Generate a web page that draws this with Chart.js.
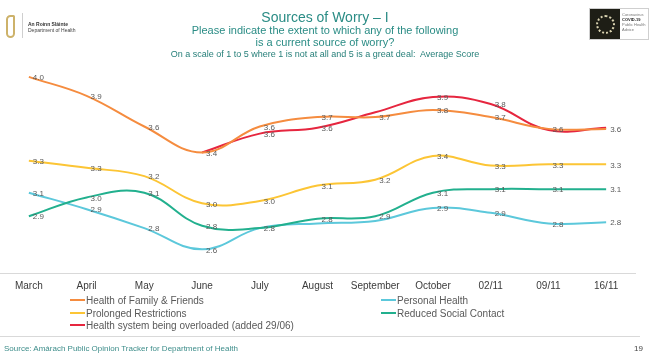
<!DOCTYPE html>
<html>
<head>
<meta charset="utf-8">
<script src="https://cdn.jsdelivr.net/npm/chart.js@4"></script>
<style>
  body { margin: 0; background: #fff; font-family: "Liberation Sans", Arial, sans-serif; }
  #page { position: relative; width: 650px; height: 361px; overflow: hidden; }
  #page div { position: absolute; white-space: nowrap; }
  canvas { position: absolute; left: 0; top: 0; }
  .head { left: 0; width: 650px; text-align: center; color: #2a8c85; }
  .leg { font-size: 10px; line-height: 12px; color: #595959; }
  .leg span { display: inline-block; width: 15px; height: 2px; vertical-align: middle; margin-right: 1px; margin-top: -2px; }
</style>
</head>
<body>
<div id="page">
  <canvas id="myChart" width="650" height="300"></canvas>

  <!-- department logo -->
  <div style="left:6px;top:15px;width:5px;height:19px;border:2px solid #cdb26a;border-radius:6px 2px 6px 6px;"></div>
  <div style="left:22px;top:13px;width:1px;height:25px;background:#cfcfcf;"></div>
  <div style="left:28px;top:21px;font-size:5px;line-height:6px;font-weight:bold;color:#333;">An Roinn Sláinte</div>
  <div style="left:28px;top:27px;font-size:5px;line-height:6px;color:#444;">Department of Health</div>

  <!-- covid logo -->
  <div style="left:589px;top:8px;width:58px;height:30px;border:1px solid #cfcfcf;"></div>
  <div style="left:590px;top:9px;width:30px;height:30px;background:#1e1e16;"></div>
  <div style="left:596px;top:15px;width:15px;height:15px;border:2px dotted #d9d2b0;border-radius:50%;"></div>
  <div style="left:622px;top:12px;font-size:4px;line-height:5px;color:#777;">Coronavirus</div>
  <div style="left:622px;top:17px;font-size:4px;line-height:5px;font-weight:bold;color:#222;">COVID-19</div>
  <div style="left:622px;top:22px;font-size:4px;line-height:5px;color:#777;">Public Health</div>
  <div style="left:622px;top:27px;font-size:4px;line-height:5px;color:#777;">Advice</div>

  <div class="head" style="top:9px;font-size:14px;line-height:16px;">Sources of Worry – I</div>
  <div class="head" style="top:24px;font-size:11px;line-height:13px;">Please indicate the extent to which any of the following</div>
  <div class="head" style="top:36px;font-size:11px;line-height:13px;">is a current source of worry?</div>
  <div class="head" style="top:49px;font-size:9px;line-height:11px;color:#267f79;">On a scale of 1 to 5 where 1 is not at all and 5 is a great deal:&nbsp; Average Score</div>

  <div id="legendLeft" style="left:70px;top:295px;"></div>
  <div id="legendRight" style="left:381px;top:295px;"></div>

  <div style="left:0;top:336px;width:640px;height:1px;background:#d9d9d9;"></div>
  <div style="left:4px;top:344px;font-size:8px;line-height:10px;color:#3d8d8a;">Source: Amárach Public Opinion Tracker for Department of Health</div>
  <div style="left:634px;top:344px;font-size:8px;line-height:10px;color:#444;">19</div>
</div>

<script>
const months = ['March', 'April', 'May', 'June', 'July', 'August', 'September', 'October', '02/11', '09/11', '16/11'];

const familyFriends = [4.04, 3.88, 3.62, 3.40, 3.62, 3.70, 3.70, 3.76, 3.70, 3.60, 3.60];
const restrictions = [3.33, 3.27, 3.20, 2.97, 2.99, 3.12, 3.17, 3.37, 3.29, 3.30, 3.30];
const healthSystem = [null, null, null, 3.40, 3.56, 3.61, 3.74, 3.87, 3.81, 3.59, 3.61];
const socialContact = [2.86, 3.02, 3.06, 2.78, 2.76, 2.84, 2.86, 3.06, 3.09, 3.09, 3.09];
const personalHealth = [3.06, 2.92, 2.76, 2.58, 2.76, 2.80, 2.82, 2.93, 2.89, 2.80, 2.81];

const series = [
    { label: 'Health of Family & Friends', data: familyFriends, color: '#f58c3f' },
    { label: 'Prolonged Restrictions', data: restrictions, color: '#fcc535' },
    { label: 'Health system being overloaded (added 29/06)', data: healthSystem, color: '#e6263f' },
    { label: 'Reduced Social Contact', data: socialContact, color: '#22b08e' },
    { label: 'Personal Health', data: personalHealth, color: '#5cc8db' }
];

// legend is two columns, filled top to bottom
const legendCols = {
    legendLeft: ['Health of Family & Friends', 'Prolonged Restrictions', 'Health system being overloaded (added 29/06)'],
    legendRight: ['Personal Health', 'Reduced Social Contact']
};
Object.keys(legendCols).forEach(id => {
    document.getElementById(id).innerHTML = legendCols[id].map(name => {
        const s = series.find(x => x.label === name);
        return '<div class="leg" style="position:relative;margin-bottom:0.5px">' +
            '<span style="background:' + s.color + '"></span>' + name + '</div>';
    }).join('');
});

// value labels to the right of each point, skipping ones that would sit on top of another
const valueLabels = {
    id: 'valueLabels',
    afterDatasetsDraw(chart) {
        const ctx = chart.ctx;
        const drawn = [];
        ctx.save();
        ctx.font = '8px "Liberation Sans", Arial, sans-serif';
        ctx.fillStyle = '#595959';
        ctx.textAlign = 'left';
        ctx.textBaseline = 'middle';
        chart.data.datasets.forEach((ds, i) => {
            chart.getDatasetMeta(i).data.forEach((pt, j) => {
                const v = ds.data[j];
                if (v == null) return;
                if (drawn.some(d => d.j === j && Math.abs(d.y - pt.y) < 6)) return;
                drawn.push({ j: j, y: pt.y });
                ctx.fillText(v.toFixed(1), pt.x + 4, pt.y + 1);
            });
        });
        ctx.restore();
    }
};

Chart.defaults.font.family = '"Liberation Sans", Arial, sans-serif';

const ctx = document.getElementById('myChart').getContext('2d');
const myChart = new Chart(ctx, {
    type: 'line',
    data: {
        labels: months,
        datasets: series.map(s => ({
            label: s.label,
            data: s.data,
            borderColor: s.color,
            backgroundColor: s.color,
            borderWidth: 2,
            pointRadius: 0,
            tension: 0.4,
            fill: false
        }))
    },
    options: {
        responsive: false,
        animation: false,
        layout: {
            padding: { top: 58, right: 15, left: 0, bottom: 1 }
        },
        plugins: {
            legend: { display: false },
            tooltip: { enabled: false }
        },
        scales: {
            x: {
                offset: true,
                grid: { display: false, drawTicks: false },
                border: { display: true, color: '#d9d9d9', width: 1 },
                ticks: {
                    color: '#3b3b3b',
                    font: { size: 10 },
                    padding: 7,
                    autoSkip: false,
                    maxRotation: 0
                }
            },
            y: {
                display: false,
                min: 2.38,
                max: 4.2
            }
        }
    },
    plugins: [valueLabels]
});
</script>
</body>
</html>
